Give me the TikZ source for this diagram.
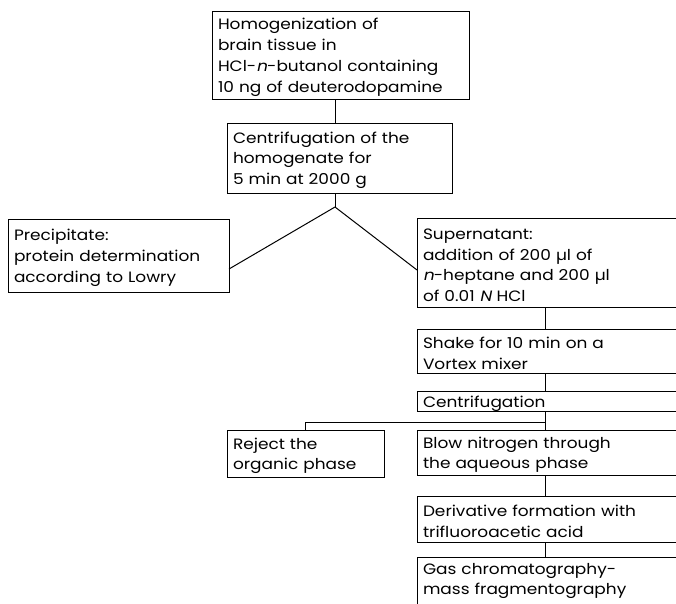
\documentclass[tikz,border=0pt]{standalone}
\usepackage{fontspec}
\setmainfont[FakeStretch=1.13,WordSpace=2]{Poppins}
\newfontfamily\itf[FakeSlant=0.2,FakeStretch=1.13,WordSpace=2]{Poppins}
\usetikzlibrary{calc}
\newcommand\bxfont{\fontsize{15}{20.7}\selectfont}
\begin{document}
\begin{tikzpicture}[x=1pt,y=-1pt,
  box/.style={draw, line width=1pt, anchor=north west, align=left,
    inner xsep=6pt, inner ysep=0pt, outer sep=0pt, font=\bxfont,
    execute at begin node={\rule{0pt}{16pt}}},
  link/.style={line width=1pt}]
\useasboundingbox (0,0) rectangle (676,603);
\clip (0,0) rectangle (676,603);
\node[box, minimum width=257, minimum height=88, text width=245] (b1) at (212,11)
  {Homogenization of\\brain tissue in\\HCl-{\itf n}-butanol containing\\10 ng of deuterodopamine};
\node[box, minimum width=225, minimum height=70, text width=213] (b2) at (227,123)
  {Centrifugation of the\\homogenate for\\5 min at 2000 g};
\node[box, minimum width=221, minimum height=73, text width=209] (pre) at (8,219)
  {Precipitate:\\protein determination\\according to Lowry};
\node[box, minimum width=290, minimum height=89, text width=278] (sup) at (417,218)
  {Supernatant:\\addition of 200 µl of\\{\itf n}-heptane and 200 µl\\of 0.01 {\itf N} HCl};
\node[box, minimum width=290, minimum height=44, text width=278] (shake) at (417,329)
  {Shake for 10 min on a\\Vortex mixer};
\node[box, minimum width=290, minimum height=20, text width=278,
  execute at begin node={}] (cent) at (417,391)
  {Centrifugation};
\node[box, minimum width=157, minimum height=47, text width=145] (rej) at (227,430)
  {Reject the\\organic phase};
\node[box, minimum width=290, minimum height=45, text width=278] (blow) at (417,430)
  {Blow nitrogen through\\the aqueous phase};
\node[box, minimum width=290, minimum height=46, text width=278] (der) at (417,496)
  {Derivative formation with\\trifluoroacetic acid};
\node[box, minimum width=290, minimum height=66, text width=278] (gas) at (417,557)
  {Gas chromatography-\\mass fragmentography\\\strut};
\coordinate (j1) at (335,207);
\coordinate (j2) at (545,422);
\draw[link] (b1.south -| j1) -- (b2.north -| j1);
\draw[link] (b2.south -| j1) -- (j1);
\draw[link] (j1) -- ($(pre.south east)+(0,-23)$);
\draw[link] (j1) -- ($(sup.north west)+(0,52)$);
\draw[link] (sup.south -| j2) -- (shake.north -| j2);
\draw[link] (shake.south -| j2) -- (cent.north -| j2);
\draw[link] (cent.south -| j2) -- (blow.north -| j2);
\draw[link] (j2) -| (rej.north);
\draw[link] (blow.south -| j2) -- (der.north -| j2);
\draw[link] (der.south -| j2) -- (gas.north -| j2);
\end{tikzpicture}
\end{document}
